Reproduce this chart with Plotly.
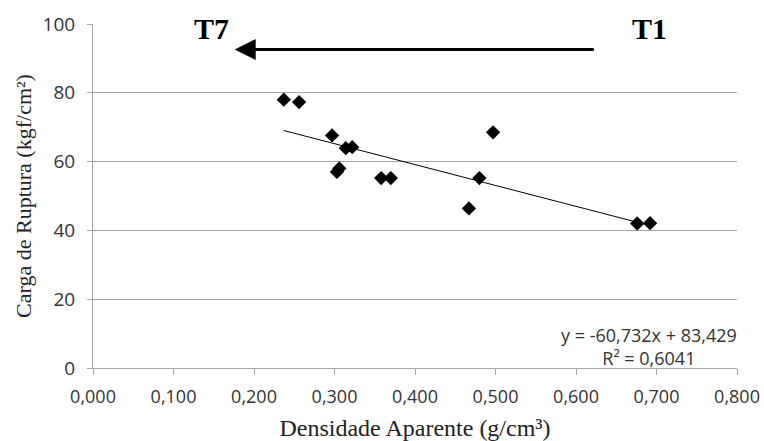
import plotly.graph_objects as go
import numpy as np

# Data
densidade = [0.237, 0.256, 0.297, 0.303, 0.306, 0.314, 0.322, 0.358, 0.370, 0.467, 0.480, 0.497, 0.676, 0.692]
carga = [78.0, 77.3, 67.6, 57.0, 58.0, 63.9, 64.2, 55.2, 55.2, 46.4, 55.2, 68.5, 42.0, 42.1]

slope = -60.732
intercept = 83.429
eq_text = "y = -60,732x + 83,429<br>R² = 0,6041"

x_ticks = [0.0, 0.1, 0.2, 0.3, 0.4, 0.5, 0.6, 0.7, 0.8]
x_ticktext = ["0,000", "0,100", "0,200", "0,300", "0,400", "0,500", "0,600", "0,700", "0,800"]
y_ticks = [0, 20, 40, 60, 80, 100]

trend_x = np.array([min(densidade), max(densidade)])
trend_y = slope * trend_x + intercept

fig = go.Figure()
fig.add_trace(go.Scatter(x=trend_x, y=trend_y, mode="lines",
                         line=dict(color="black", width=1), showlegend=False, hoverinfo="skip"))
fig.add_trace(go.Scatter(x=densidade, y=carga, mode="markers",
                         marker=dict(symbol="diamond", size=11, color="black"),
                         showlegend=False))

serif = "Liberation Serif, Times New Roman, serif"
sans = "Open Sans, sans-serif"

fig.update_layout(
    width=764, height=441,
    margin=dict(l=93, r=27, t=24, b=73),
    plot_bgcolor="white", paper_bgcolor="white",
    xaxis=dict(range=[0, 0.8], tickvals=x_ticks, ticktext=x_ticktext, automargin=False,
               showgrid=False, zeroline=False, showline=True, linecolor="#a6a6a6", linewidth=1,
               ticks="outside", ticklen=6, tickcolor="#a6a6a6", ticklabelstandoff=6,
               tickfont=dict(family=sans, size=18, color="#333333"),
               title=dict(text="Densidade Aparente (g/cm³)", font=dict(family=serif, size=24, color="#222"),
                          standoff=16)),
    yaxis=dict(range=[0, 100], tickvals=y_ticks, automargin=False,
               showgrid=True, gridcolor="#a6a6a6", gridwidth=1, zeroline=False,
               showline=True, linecolor="#a6a6a6", linewidth=1,
               ticks="outside", ticklen=5, tickcolor="#a6a6a6", ticklabelstandoff=8,
               tickfont=dict(family=sans, size=19, color="#333333"),
               title=dict(text="Carga de Ruptura (kgf/cm²)", font=dict(family=serif, size=22, color="#222"),
                          standoff=4)),
)

fig.add_annotation(x=0.176, y=92.6, ax=0.624, ay=92.6, xref="x", yref="y", axref="x", ayref="y",
                   text="", showarrow=True, arrowhead=2, arrowsize=1.4, arrowwidth=3, arrowcolor="black")
fig.add_annotation(x=0.147, y=98.6, xref="x", yref="y", text="<b>T7</b>", showarrow=False,
                   font=dict(family=serif, size=30, color="black"))
fig.add_annotation(x=0.691, y=98.6, xref="x", yref="y", text="<b>T1</b>", showarrow=False,
                   font=dict(family=serif, size=30, color="black"))
fig.add_annotation(x=0.691, y=6.2, xref="x", yref="y", text=eq_text, showarrow=False,
                   align="center", font=dict(family=sans, size=18, color="#333333"))

fig.write_html("out.html")
